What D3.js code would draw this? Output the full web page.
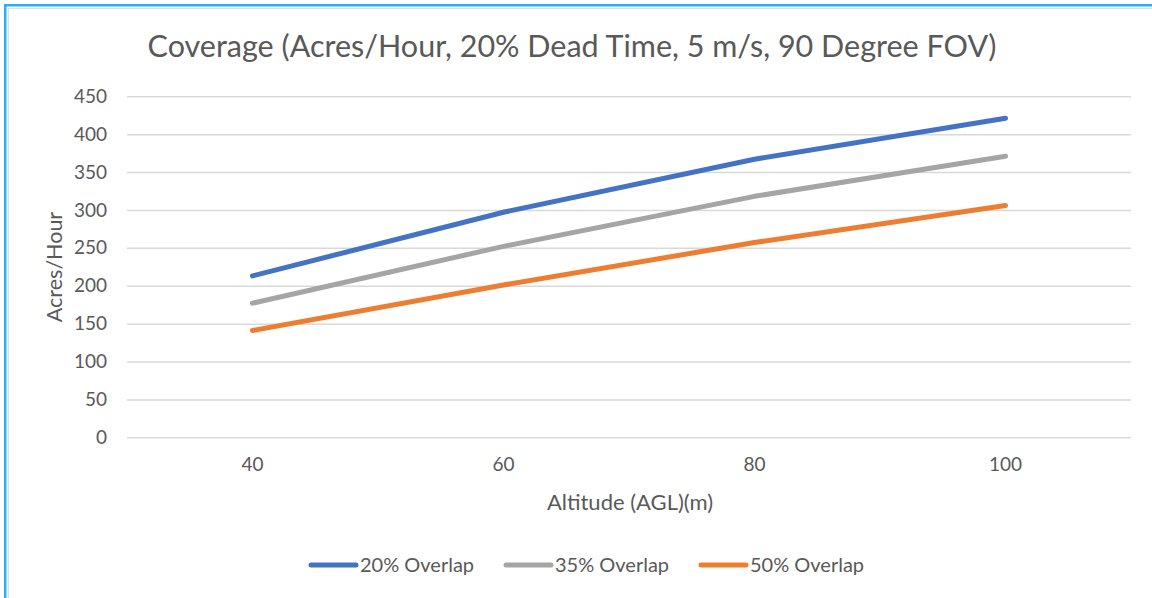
<!DOCTYPE html>
<html>
<head>
<meta charset="utf-8">
<script src="https://cdn.jsdelivr.net/npm/d3@7"></script>
<style>
  body { margin: 0; background: #fff; }
  svg text { font-family: Lato, "Open Sans", sans-serif; fill: #595959; }
</style>
</head>
<body>
<div id="chart"></div>
<script>
// Chart data
var altitudes = ["40", "60", "80", "100"];
var seriesNames = ["20% Overlap", "35% Overlap", "50% Overlap"];
var overlap20 = [213, 297, 367, 421];
var overlap35 = [177, 252, 318, 371];
var overlap50 = [141, 201, 257, 306];
var yTicks = [0, 50, 100, 150, 200, 250, 300, 350, 400, 450];
var seriesColors = ["#4472C4", "#A5A5A5", "#ED7D31"];

var width = 1152;
var height = 598;

var svg = d3.select("#chart")
  .append("svg")
  .attr("width", width)
  .attr("height", height);

// Chart border (blue selection frame + light inner frame)
svg.append("rect")
  .attr("x", 8.5).attr("y", 8.5)
  .attr("width", width).attr("height", height)
  .attr("fill", "none")
  .attr("stroke", "#e3dede")
  .attr("stroke-width", 1);
svg.append("rect")
  .attr("x", 5.25).attr("y", 5.25)
  .attr("width", width + 10).attr("height", height + 10)
  .attr("fill", "none")
  .attr("stroke", "#1fb5f2")
  .attr("stroke-width", 2.5);

// Scales
var plotLeft = 127, plotRight = 1131;
var xScale = d3.scaleBand()
  .domain(altitudes)
  .range([plotLeft, plotRight]);
var yScale = d3.scaleLinear()
  .domain([0, 450])
  .range([437.3, 96.3]);

// Gridlines + y axis labels
var yAxis = d3.axisLeft(yScale)
  .tickValues(yTicks)
  .tickSize(-(plotRight - plotLeft))
  .tickPadding(20);
var yG = svg.append("g")
  .attr("transform", "translate(" + plotLeft + ",0)")
  .call(yAxis);
yG.select(".domain").remove();
yG.selectAll(".tick line")
  .attr("stroke", "#d9d9d9")
  .attr("stroke-width", 1.5);
yG.selectAll(".tick text")
  .attr("font-size", 19)
  .attr("fill", "#595959");

// x axis labels
var xAxis = d3.axisBottom(xScale).tickSize(0).tickPadding(20);
var xG = svg.append("g")
  .attr("transform", "translate(0," + yScale(0) + ")")
  .call(xAxis);
xG.select(".domain").remove();
xG.selectAll(".tick text")
  .attr("font-size", 19)
  .attr("fill", "#595959");

// Lines
var allSeries = [overlap20, overlap35, overlap50];
var line = d3.line()
  .x(function(d, i) { return xScale(altitudes[i]) + xScale.bandwidth() / 2; })
  .y(function(d) { return yScale(d); });

svg.selectAll(".series")
  .data(allSeries)
  .enter()
  .append("path")
  .attr("class", "series")
  .attr("d", line)
  .attr("fill", "none")
  .attr("stroke", function(d, i) { return seriesColors[i]; })
  .attr("stroke-width", 5)
  .attr("stroke-linecap", "round")
  .attr("stroke-linejoin", "round");

// Title
svg.append("text")
  .attr("x", 572)
  .attr("y", 57)
  .attr("text-anchor", "middle")
  .attr("font-size", 30.5)
  .text("Coverage (Acres/Hour, 20% Dead Time, 5 m/s, 90 Degree FOV)");

// Axis titles
svg.append("text")
  .attr("x", 630)
  .attr("y", 510)
  .attr("text-anchor", "middle")
  .attr("font-size", 22)
  .text("Altitude (AGL)(m)");

svg.append("text")
  .attr("transform", "translate(62,267)rotate(-90)")
  .attr("text-anchor", "middle")
  .attr("font-size", 21.5)
  .text("Acres/Hour");

// Legend
var legend = svg.append("g").attr("transform", "translate(309,565)");
var items = legend.selectAll(".legendItem")
  .data(seriesNames)
  .enter()
  .append("g")
  .attr("class", "legendItem")
  .attr("transform", function(d, i) { return "translate(" + (i * 195) + ",0)"; });
items.append("line")
  .attr("x1", 2).attr("x2", 47)
  .attr("y1", 0).attr("y2", 0)
  .attr("stroke", function(d, i) { return seriesColors[i]; })
  .attr("stroke-width", 5)
  .attr("stroke-linecap", "round");
items.append("text")
  .attr("x", 51)
  .attr("y", 7)
  .attr("font-size", 20)
  .text(function(d) { return d; });
</script>
</body>
</html>
